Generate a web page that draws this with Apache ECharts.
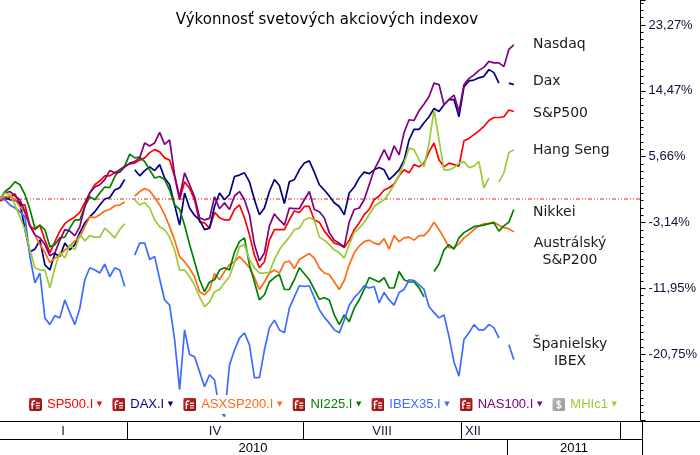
<!DOCTYPE html>
<html><head><meta charset="utf-8">
<script src="https://cdn.jsdelivr.net/npm/echarts@6/dist/echarts.min.js"></script>
<style>html,body{margin:0;padding:0;background:#fff}#c{width:700px;height:455px}</style>
</head><body><div id="c"></div>
<script>
// Sampled performance values (%), one point per sampling step
const sp500 = [0.0,-0.1,0.2,0.7,-0.8,-0.8,-3.6,-4.1,-3.5,-5.5,-7.2,-5.7,-4.3,-3.3,-2.8,-2.4,-1.8,-0.5,0.8,1.9,2.4,3.1,3.1,3.5,3.9,4.3,4.7,4.8,5.2,5.5,6.2,6.6,6.3,5.5,5.2,3.0,-0.1,2.3,1.4,-0.1,-3.1,-3.2,-3.9,-1.8,-2.5,-2.8,-2.8,-1.4,-0.8,-2.5,-4.8,-7.5,-9.2,-8.4,-5.5,-4.1,-4.1,-4.1,-2.8,-1.6,-1.8,-1.0,-1.0,-2.8,-3.1,-4.3,-5.1,-5.9,-6.1,-6.5,-5.5,-4.1,-3.2,-2.1,-1.4,-0.1,0.4,1.2,1.5,2.0,3.1,3.9,3.5,4.6,4.3,4.8,6.3,7.5,5.2,4.3,4.8,4.6,4.4,7.8,8.1,8.6,9.1,9.7,10.5,10.9,10.9,11.0,11.9,11.7];
const dax = [0.0,0.2,-0.1,-0.2,-0.5,-4.1,-7.1,-6.7,-5.5,-8.8,-9.5,-7.3,-7.7,-5.9,-6.8,-6.1,-4.5,-3.2,-2.4,-1.7,-0.8,0.0,0.2,1.2,1.5,2.6,null,3.9,3.1,3.8,4.3,3.8,4.6,2.8,1.9,-0.8,-3.5,0.8,-1.2,-2.2,-2.8,-4.1,-3.9,-1.0,0.8,-0.1,0.6,3.0,3.2,3.5,2.3,-0.1,-2.1,-1.2,1.0,2.6,1.8,-0.6,2.3,2.6,3.9,4.8,5.1,3.6,1.9,1.2,0.4,-0.5,-1.0,-2.1,0.8,1.6,2.8,3.6,3.4,3.9,4.2,3.9,2.6,3.2,3.9,5.2,7.9,9.3,9.3,10.2,11.0,12.1,11.7,12.6,13.3,13.3,11.0,15.0,15.8,15.9,16.2,16.4,17.3,16.9,15.5,null,15.5,15.3];
const asx200 = [0.0,0.3,0.4,-0.1,-1.0,-1.8,-3.5,-4.8,-6.1,-7.1,-8.5,-7.9,-7.6,-6.8,-6.3,-5.6,-5.1,-3.7,-2.4,-2.5,-2.1,-1.6,-1.4,-0.9,-0.8,-0.4,null,0.4,1.0,1.4,1.1,0.2,-0.8,-2.1,-3.7,-5.5,-7.7,-8.4,-9.3,-10.4,-12.4,-12.8,-12.1,-10.0,-10.8,-9.7,-8.8,-8.4,-7.7,-8.4,-9.2,-10.5,-12.1,-11.1,-9.9,-9.5,-9.9,-8.5,-8.3,-9.3,-8.1,-7.7,-7.3,-7.9,-9.2,-9.9,-10.1,-11.1,-12.1,-10.9,-8.8,-7.2,-6.3,-5.7,-5.5,-5.9,-6.1,-5.3,-6.7,-4.9,-5.7,-5.2,-5.1,-5.5,-4.9,-4.9,-4.2,-3.1,-4.1,-5.2,-6.5,-6.5,-6.0,-5.2,-4.7,-4.1,-3.6,-3.3,-3.3,-3.1,-3.5,-3.8,-4.0,-4.4];
const nikkei = [0.0,1.0,1.5,2.3,1.9,0.6,-1.4,-3.9,-3.5,-4.1,-6.4,-6.1,-5.2,-5.1,-3.9,-2.8,-2.8,-1.0,0.3,-0.1,0.8,1.6,1.5,3.0,3.9,4.4,6.0,5.5,5.6,5.0,3.9,2.8,3.0,2.6,1.2,-0.8,-1.4,-3.5,-6.1,-8.4,-10.8,-12.4,-11.1,-10.8,-9.5,-9.2,-9.5,-7.1,-5.7,-5.2,-8.8,-11.1,-13.5,-12.8,-11.1,-10.5,-10.1,-12.1,-12.1,-10.8,-9.2,-10.0,-10.8,-12.1,-13.4,-13.2,-13.5,-15.5,-16.8,-15.5,-16.4,-14.6,-13.5,-12.1,-10.5,-10.8,-11.1,-10.5,-11.9,-11.9,-9.7,-10.8,-11.1,-11.1,-11.9,-13.1,null,-9.7,-8.7,-6.8,-6.1,-6.7,-5.2,-4.5,-4.1,-3.7,-3.6,-3.5,-3.3,-3.2,-4.3,-3.6,-3.1,-1.4];
const ibex = [0.0,-0.1,-0.8,-1.2,-1.7,-2.4,-7.7,-11.2,-9.9,-15.9,-16.8,-15.6,-15.9,-13.5,-15.2,-16.8,-14.6,-10.8,-9.2,-9.5,-9.9,-8.7,-10.4,-9.2,-9.5,-11.7,null,-7.5,-5.9,-5.9,-8.1,-7.7,-10.7,-13.5,-14.2,-18.8,-25.5,-17.5,-20.8,-21.1,-23.1,-25.1,-23.5,-24.2,-28.2,-29.1,-22.2,-20.2,-18.6,-17.9,-19.5,-23.9,-23.9,-20.2,-17.2,-16.2,-17.5,-17.9,-14.6,-13.1,-11.6,-11.7,-11.6,-13.2,-14.8,-15.8,-16.6,-17.5,-17.9,-16.2,-14.2,-13.2,-12.5,-11.6,-11.9,-11.7,-13.9,-12.5,-13.5,-14.2,-12.5,-12.1,-10.8,-10.9,-11.5,-12.1,-14.4,-15.2,-15.9,-15.5,-18.4,-21.8,-23.7,-18.8,-17.9,-16.8,-17.5,-17.5,-16.8,-17.2,-18.6,null,-19.5,-21.5];
const nasdaq = [0.0,0.8,1.0,0.4,-0.1,-1.7,-3.6,-4.8,-5.2,-6.1,-7.6,-7.2,-5.5,-4.1,-4.3,-4.9,-3.7,-1.0,0.8,1.6,1.9,2.6,3.8,3.5,3.6,4.3,4.8,5.0,5.5,7.5,7.1,7.5,8.9,7.3,7.9,3.2,0.2,3.5,1.9,0.3,-2.5,-2.8,-2.6,0.3,-1.3,-0.5,-1.4,0.4,1.0,-0.1,-2.1,-6.1,-8.3,-7.2,-3.6,-2.0,-2.8,-3.5,-1.2,-1.3,-1.3,-0.1,1.0,-1.4,-1.7,-2.5,-4.5,-5.5,-5.9,-6.4,-3.1,-1.4,-1.2,-0.1,1.9,3.9,5.2,6.6,5.2,7.1,5.9,8.9,10.6,10.5,11.8,12.7,13.7,15.5,15.3,12.6,13.3,13.9,11.7,15.3,16.1,16.6,17.2,17.6,18.4,18.2,18.2,17.7,20.0,20.6];
const hangSeng = [0.0,0.8,0.6,-0.8,-2.4,-4.1,-6.8,-9.2,-9.5,-9.5,-11.9,-9.2,-7.1,-7.9,-6.1,-6.8,-4.8,-5.6,-4.9,-5.1,-5.1,-3.9,-4.5,-5.2,-4.1,-3.3,null,-0.1,-0.8,-0.5,-1.2,-2.8,-3.7,-4.1,-5.1,-6.8,-9.5,-9.5,-10.4,-11.5,-13.1,-14.4,-13.8,-12.4,-12.1,-11.2,-10.4,-8.5,-6.4,-6.1,-8.1,-9.2,-9.9,-9.9,-9.8,-8.1,-6.8,-5.9,-5.1,-4.1,-3.9,-2.8,-2.5,-2.8,-5.1,-5.5,-6.1,-6.8,-7.2,-7.9,-6.1,-4.5,-3.9,-3.1,-2.1,-1.0,-0.5,-0.1,0.8,1.9,3.2,4.8,6.8,6.6,5.2,4.3,7.5,11.9,7.9,3.9,3.9,4.2,4.8,5.0,4.2,4.4,5.0,1.5,2.8,null,2.3,3.5,6.2,6.6];

const seriesNames = ['SP500.I','DAX.I','ASXSP200.I','NI225.I','IBEX35.I','NAS100.I','MHIc1'];
const endLabels = ['S&P500','Dax','Austrálský\nS&P200','Nikkei','Španielsky\nIBEX','Nasdaq','Hang Seng'];
const tickValues = [-20.75,-11.95,-3.14,5.66,14.47,23.27];
const baseLevel = 0; // performance reference level (dotted line)
const monthLabels = ['I','IV','VIII','XII'];
const yearLabels = ['2010','2011'];
const titleText = 'Výkonnosť svetových akciových indexov';

const colors = ['#ff0000','#000080','#ff6a13','#008000','#3d6bff','#800080','#99cc33'];
const dataSets = [sp500, dax, asx200, nikkei, ibex, nasdaq, hangSeng];

const interval = (tickValues[5]-tickValues[0])/5;
const yMin = tickValues[0] - interval;
const yMax = 26.61;
const xMax = 128.4;

function mkIcon(c1, c2, glyph){
  const svg = '<svg xmlns="http://www.w3.org/2000/svg" width="13" height="13" viewBox="0 0 13 13">'+
    '<defs><linearGradient id="g" x1="0" y1="0" x2="1" y2="1"><stop offset="0" stop-color="'+c1+'"/><stop offset="1" stop-color="'+c2+'"/></linearGradient></defs>'+
    '<rect x="0" y="0" width="13" height="13" rx="2" ry="2" fill="url(#g)"/>'+glyph+'</svg>';
  return 'image://data:image/svg+xml;charset=utf-8,' + encodeURIComponent(svg);
}
const redGlyph = '<path d="M3.2 11V4.6C3.2 3.6 3.8 3 4.8 3H6.2" stroke="#fff" stroke-width="1.3" fill="none"/>'+
  '<path d="M2.2 6.3H5.2M6.8 5.2H10.8M6.8 7.6H10.8M6.8 10H10.8" stroke="#fff" stroke-width="1.2" fill="none"/>';
const grayGlyph = '<path d="M8.6 4.2C8 3.5 7.3 3.2 6.4 3.2C5.2 3.2 4.4 3.9 4.4 4.8C4.4 6.9 8.8 6 8.8 8.3C8.8 9.3 7.9 10 6.6 10C5.6 10 4.8 9.6 4.2 8.9M6.5 2V11.2" stroke="#fff" stroke-width="1.1" fill="none"/>';
const icons = seriesNames.map((n,i)=> i===6 ? mkIcon('#b8b8b8','#989898',grayGlyph) : mkIcon('#c42a2a','#8a0f0f',redGlyph));

const series = seriesNames.map((n,i)=>({
  name:n, type:'line',
  data: dataSets[i].map((v,k)=>[k, v===null ? '-' : v]),
  showSymbol:false, symbol:'none', connectNulls:false, animation:false,
  lineStyle:{color:colors[i], width:1.7}, itemStyle:{color:colors[i]},
  emphasis:{disabled:true}, z:3+i
}));
// dotted red reference line at the base level
series.push({
  name:'base', type:'line', silent:true, animation:false, symbol:'none', showSymbol:false,
  data:[[0, baseLevel],[xMax, baseLevel]],
  lineStyle:{color:'#ff1010', width:1.2, type:[4,2,1,2,1,2]}, itemStyle:{color:'#ff1010'},
  emphasis:{disabled:true}, z:2
});
series[0].markPoint = {
  silent:true, animation:false, symbol:'rect', symbolSize:5, label:{show:false},
  itemStyle:{color:'#ff0000'}, data:[{coord:[0, baseLevel]}]
};

const FONT = "'Liberation Sans', Arial, sans-serif";
const FONT2 = "'DejaVu Sans', Verdana, sans-serif";

const graphics = [];
function txt(text, x, y, opt){
  graphics.push({type:'text', silent:true, z:100, style:Object.assign({
    text, x, y, fill:'#111', font:'14px '+FONT2,
    align:'left', textAlign:'left', verticalAlign:'middle', textVerticalAlign:'middle'
  }, opt||{})});
}
function ln(x1,y1,x2,y2){
  graphics.push({type:'line', silent:true, z:100, shape:{x1,y1,x2,y2}, style:{stroke:'#000', lineWidth:1}});
}
// title
txt(titleText, 327, 20, {font:'15px '+FONT2, align:'center', textAlign:'center', fill:'#000'});
// right-side labels
const lbl = [
  [endLabels[5], 533, 44, 'left'],
  [endLabels[1], 533, 81, 'left'],
  [endLabels[0], 533, 113, 'left'],
  [endLabels[6], 533, 150, 'left'],
  [endLabels[3], 533, 212, 'left'],
  [endLabels[2], 570, 252, 'center'],
  [endLabels[4], 570, 353, 'center']
];
lbl.forEach(l=>txt(l[0], l[1], l[2], {align:l[3], textAlign:l[3], lineHeight:17, fill:'#1a1a1a'}));
// bottom time band
ln(0,421.5,700,421.5);
ln(0,439.5,642,439.5);
ln(642.5,420,642.5,455);
[127.5,303.5,461.5,620.5].forEach(x=>ln(x,421.5,x,439.5));
ln(507.5,439.5,507.5,455);
const mcol = '#14143c';
txt(monthLabels[0], 63, 431, {font:'13px '+FONT, align:'center', textAlign:'center', fill:mcol});
txt(monthLabels[1], 215, 431, {font:'13px '+FONT, align:'center', textAlign:'center', fill:mcol});
txt(monthLabels[2], 382, 431, {font:'13px '+FONT, align:'center', textAlign:'center', fill:mcol});
txt(monthLabels[3], 465, 431, {font:'13px '+FONT, fill:mcol});
txt(yearLabels[0], 253, 448, {font:'13px '+FONT, align:'center', textAlign:'center', fill:'#000'});
txt(yearLabels[1], 574, 448, {font:'13px '+FONT, align:'center', textAlign:'center', fill:'#000'});

const chart = echarts.init(document.getElementById('c'), null, {renderer:'canvas'});
chart.setOption({
  animation:false,
  backgroundColor:'#fff',
  grid:{left:0, right:58, top:0, bottom:35, containLabel:false},
  xAxis:{type:'value', min:0, max:xMax, show:false},
  yAxis:{
    type:'value', position:'right', min:yMin, max:yMax, interval:interval,
    axisLine:{show:true, onZero:false, lineStyle:{color:'#000', width:1}},
    axisTick:{show:true, inside:false, length:5, lineStyle:{color:'#000'}},
    minorTick:{show:true, splitNumber:9, length:3, lineStyle:{color:'#000'}},
    splitLine:{show:false}, minorSplitLine:{show:false},
    axisLabel:{
      showMinLabel:false, showMaxLabel:false, margin:8, color:'#10103a',
      fontFamily:FONT, fontSize:13,
      formatter:v=>{const t=tickValues.find(t=>Math.abs(t-v)<0.05); return t===undefined?'':t.toFixed(2).replace('.',',')+'%';}
    }
  },
  legend:{
    left:24, top:395, padding:[3,5], itemGap:10, itemWidth:13, itemHeight:13,
    backgroundColor:'#fff', selectedMode:false, z:50,
    data: seriesNames.map((n,i)=>({name:n, icon:icons[i], textStyle:{color:colors[i], rich:{a:{color:colors[i], fontSize:7, fontFamily:FONT2}}}})),
    formatter: n => n + ' {a|▼}',
    textStyle:{fontFamily:FONT, fontSize:13}
  },
  series: series,
  graphic: graphics
});
</script>
</body></html>
